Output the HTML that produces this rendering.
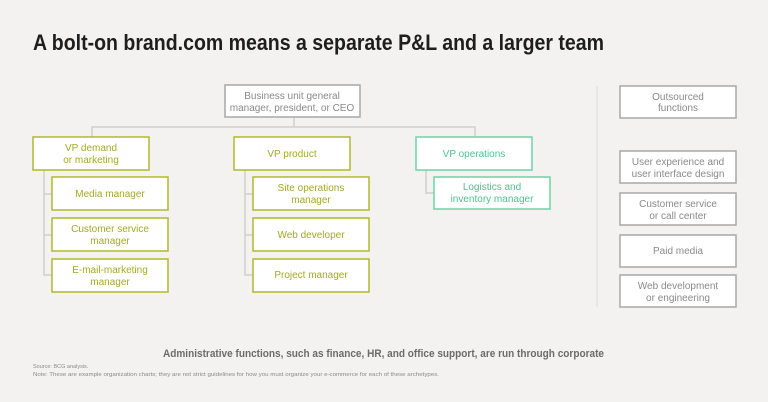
<!DOCTYPE html>
<html><head><meta charset="utf-8"><style>
html,body{margin:0;padding:0;background:#f3f2f0;}
svg{display:block;font-family:"Liberation Sans",sans-serif;}
.o rect{fill:#fff;stroke:#b2b82e;stroke-width:1.5}
.o text{fill:#a3ab22;font-size:10px;text-anchor:middle}
.g rect{fill:#fff;stroke:#6dd3a6;stroke-width:1.5}
.g text{fill:#4fc48f;font-size:10px;text-anchor:middle}
.r rect{fill:#fff;stroke:#a8a8a8;stroke-width:1.5}
.r text{fill:#8a8a8a;font-size:10px;text-anchor:middle}
.l{stroke:#cfcfcf;stroke-width:1.5;fill:none}
</style></head><body>
<svg width="768" height="402" viewBox="0 0 768 402">
<text x="33" y="50" font-size="22" font-weight="bold" fill="#1e1e1e" textLength="571" lengthAdjust="spacingAndGlyphs">A bolt-on brand.com means a separate P&amp;L and a larger team</text>
<!-- connectors -->
<path class="l" d="M294 117V127M92 137V127H475V137"/>
<path class="l" d="M44 170V275H52M44 194H52M44 235H52"/>
<path class="l" d="M245 170V275H253M245 194H253M245 235H253"/>
<path class="l" d="M426 170V193H434"/>
<line x1="597" y1="86" x2="597" y2="307" stroke="#dcdcdc" stroke-width="1"/>
<g class="r"><rect x="225" y="85" width="135" height="32"/><text x="292" y="99">Business unit general</text><text x="292" y="111">manager, president, or CEO</text></g>
<g class="o">
<rect x="33" y="137" width="116" height="33"/><text x="91" y="151">VP demand</text><text x="91" y="163">or marketing</text>
<rect x="234" y="137" width="116" height="33"/><text x="292" y="157">VP product</text>
<rect x="52" y="177" width="116" height="33"/><text x="110" y="197">Media manager</text>
<rect x="52" y="218" width="116" height="33"/><text x="110" y="232">Customer service</text><text x="110" y="244">manager</text>
<rect x="52" y="259" width="116" height="33"/><text x="110" y="273">E-mail-marketing</text><text x="110" y="285">manager</text>
<rect x="253" y="177" width="116" height="33"/><text x="311" y="191">Site operations</text><text x="311" y="203">manager</text>
<rect x="253" y="218" width="116" height="33"/><text x="311" y="238">Web developer</text>
<rect x="253" y="259" width="116" height="33"/><text x="311" y="278">Project manager</text>
</g>
<g class="g">
<rect x="416" y="137" width="116" height="33"/><text x="474" y="157">VP operations</text>
<rect x="434" y="177" width="116" height="32"/><text x="492" y="190">Logistics and</text><text x="492" y="202">inventory manager</text>
</g>
<g class="r">
<rect x="620" y="86" width="116" height="32"/><text x="678" y="100">Outsourced</text><text x="678" y="111">functions</text>
<rect x="620" y="151" width="116" height="32"/><text x="678" y="165">User experience and</text><text x="678" y="177">user interface design</text>
<rect x="620" y="193" width="116" height="32"/><text x="678" y="207">Customer service</text><text x="678" y="219">or call center</text>
<rect x="620" y="235" width="116" height="32"/><text x="678" y="254">Paid media</text>
<rect x="620" y="275" width="116" height="32"/><text x="678" y="289">Web development</text><text x="678" y="301">or engineering</text>
</g>
<text x="163" y="357" font-size="11" font-weight="bold" fill="#6b6b6b" textLength="441" lengthAdjust="spacingAndGlyphs">Administrative functions, such as finance, HR, and office support, are run through corporate</text>
<text x="33" y="368" font-size="5.5" fill="#8a8a8a">Source: BCG analysis.</text>
<text x="33" y="376" font-size="5.5" fill="#8a8a8a" textLength="406" lengthAdjust="spacingAndGlyphs">Note: These are example organization charts; they are not strict guidelines for how you must organize your e-commerce for each of these archetypes.</text>
</svg>
</body></html>
